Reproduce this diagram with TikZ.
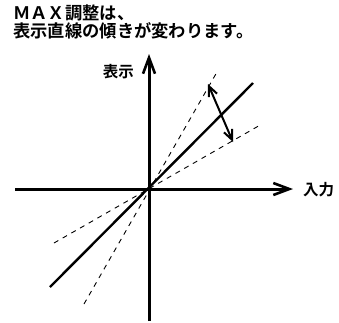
\documentclass[tikz,border=0pt]{standalone}
\usepackage{fontspec}
\newfontfamily\jpfont{Noto Sans CJK JP}[BoldFont={* Bold}]
\usepackage{tikz}
\usetikzlibrary{
  positioning,
  arrows.meta
}

\begin{document}
\begin{tikzpicture}[x=1pt, y=-1pt,
  axis/.style={line width=3pt, -{Straight Barb[length=16pt, width=12pt, line width=2.6pt]}},
  gain/.style={line width=2.4pt},
  limit/.style={line width=0.9pt, dash pattern=on 5pt off 5pt},
  swing/.style={line width=2pt, {Straight Barb[length=10pt, width=9pt]}-{Straight Barb[length=10pt, width=9pt]}},
  lbl/.style={font=\jpfont\bfseries\fontsize{15.5}{16}\selectfont, inner sep=0pt}
]
  \useasboundingbox (0,0) rectangle (339,322);

  % axes
  \coordinate (origin) at (149,189);
  \coordinate (xleft) at (15,189);
  \coordinate (xright) at (293,189);
  \coordinate (ybottom) at (149,321);
  \coordinate (ytop) at (149,54);
  \draw[axis] (xleft) -- (xright);
  \draw[axis] (ybottom) -- (ytop);
  \node[lbl, anchor=west] (input) at (303,190) {入力};
  \node[lbl, anchor=east] (display) at (134,72) {表示};

  % display lines
  \coordinate (solidlo) at (50,287);
  \coordinate (solidhi) at (253,83);
  \coordinate (steeplo) at (84,304);
  \coordinate (steephi) at (217,72);
  \coordinate (flatlo) at (54,243);
  \coordinate (flathi) at (262,124);
  \draw[gain] (solidlo) -- (solidhi);
  \draw[limit] (steeplo) -- (steephi);
  \draw[limit] (flatlo) -- (flathi);

  % adjustment range
  \coordinate (swinghi) at (208,84);
  \coordinate (swinglo) at (233,142);
  \draw[swing] (swinghi) -- (swinglo);

  \node[lbl, anchor=north west, align=left, font=\jpfont\bfseries\fontsize{17.3}{15.5}\selectfont] (title) at (13,5)
    {ＭＡＸ調整は、\\表示直線の傾きが変わります。};
\end{tikzpicture}
\end{document}
